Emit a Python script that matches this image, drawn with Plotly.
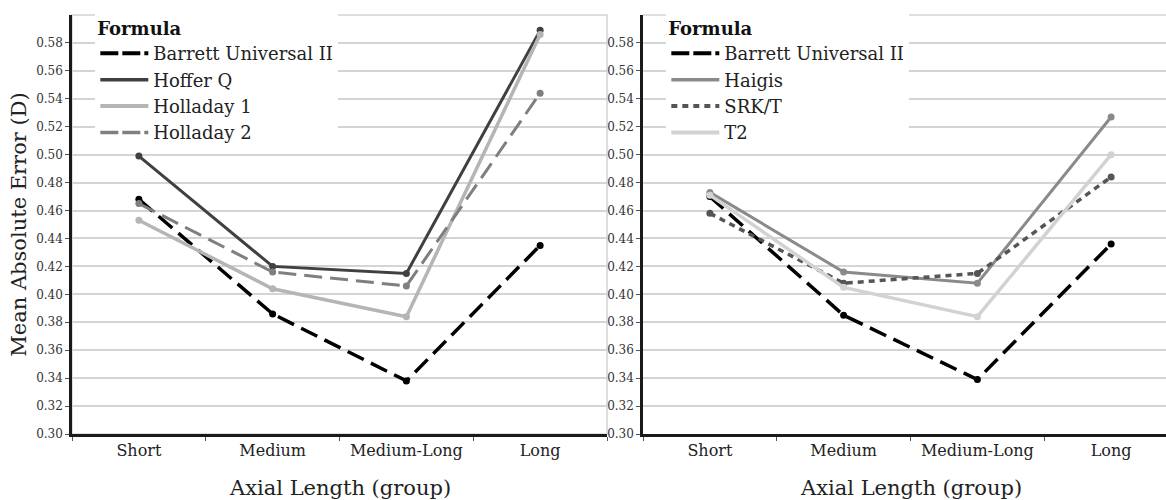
import plotly.graph_objects as go

categories = ["Short", "Medium", "Medium-Long", "Long"]

# Left panel
barrett_left = [0.468, 0.386, 0.338, 0.435]
hofferq = [0.499, 0.420, 0.415, 0.589]
holladay1 = [0.453, 0.404, 0.384, 0.586]
holladay2 = [0.465, 0.416, 0.406, 0.544]

# Right panel
barrett_right = [0.470, 0.385, 0.339, 0.436]
haigis = [0.473, 0.416, 0.408, 0.527]
srkt = [0.458, 0.408, 0.415, 0.484]
t2 = [0.471, 0.405, 0.384, 0.500]

ytickvals = [0.30, 0.32, 0.34, 0.36, 0.38, 0.40, 0.42, 0.44, 0.46, 0.48, 0.50, 0.52, 0.54, 0.56, 0.58]

FONT = "DejaVu Serif"

left_series = [
    ("Barrett Universal II", barrett_left, "#000000", "18px,8px", 3.5),
    ("Hoffer Q", hofferq, "#404040", "solid", 3),
    ("Holladay 1", holladay1, "#b5b5b5", "solid", 3.5),
    ("Holladay 2", holladay2, "#7f7f7f", "18px,8px", 3),
]
right_series = [
    ("Barrett Universal II", barrett_right, "#000000", "18px,8px", 3.5),
    ("Haigis", haigis, "#8a8a8a", "solid", 3),
    ("SRK/T", srkt, "#555555", "6px,5px", 3.5),
    ("T2", t2, "#d2d2d2", "solid", 3.5),
]

fig = go.Figure()

for name, vals, color, dash, w in left_series:
    fig.add_trace(go.Scatter(x=categories, y=vals, mode="lines+markers", name=name,
                             line=dict(color=color, width=w, dash=dash),
                             marker=dict(color=color, size=7),
                             showlegend=False, xaxis="x", yaxis="y"))
for name, vals, color, dash, w in right_series:
    fig.add_trace(go.Scatter(x=categories, y=vals, mode="lines+markers", name=name,
                             line=dict(color=color, width=w, dash=dash),
                             marker=dict(color=color, size=7),
                             showlegend=False, xaxis="x2", yaxis="y2"))


def legend_dash(d):
    return "18px,4px" if d == "18px,8px" else d


# legend-only entries (line without marker)
for i, (name, vals, color, dash, w) in enumerate(left_series):
    fig.add_trace(go.Scatter(x=[None], y=[None], mode="lines", name=name,
                             line=dict(color=color, width=w + 0.5, dash=legend_dash(dash)),
                             legend="legend", legendgroup="L%d" % i,
                             xaxis="x", yaxis="y"))
for i, (name, vals, color, dash, w) in enumerate(right_series):
    fig.add_trace(go.Scatter(x=[None], y=[None], mode="lines", name=name,
                             line=dict(color=color, width=w + 0.5, dash=legend_dash(dash)),
                             legend="legend2", legendgroup="R%d" % i,
                             xaxis="x2", yaxis="y2"))

W = 1166
L0, L1 = 72 / W, 607 / W
R0 = 643 / W
xr_right = [-0.5, -0.5 + (W - 643) / 133.75]

TITLE_X = "Axial Length (group)"
TITLE_Y = "Mean Absolute Error (D)"

axis_common_x = dict(
    type="category", categoryorder="array", categoryarray=categories,
    showgrid=False, showline=True, linecolor="#1a1a1a", linewidth=2.5,
    ticks="outside", tickson="boundaries", ticklen=4, tickcolor="#555555",
    tickfont=dict(family=FONT, size=16, color="#222222"),
    zeroline=False,
)
axis_common_y = dict(
    range=[0.30, 0.60], tickvals=ytickvals, tickformat=".2f",
    showgrid=True, gridcolor="#d4d4d4", gridwidth=1.5,
    showline=True, linecolor="#1a1a1a", linewidth=2.5,
    ticks="outside", ticklen=4, tickcolor="#555555",
    tickfont=dict(family=FONT, size=12, color="#333333"),
    zeroline=False,
)

legend_common = dict(
    y=1.008, xanchor="left", yanchor="top",
    bgcolor="white", borderwidth=0,
    title=dict(text="<b>Formula</b>", font=dict(family=FONT, size=18, color="#111111")),
    font=dict(family=FONT, size=18, color="#222222"),
    tracegroupgap=0, itemwidth=48,
)

fig.update_layout(
    width=W, height=500,
    margin=dict(l=0, r=0, t=15, b=66),
    paper_bgcolor="white", plot_bgcolor="white",
    font=dict(family=FONT, color="#222222"),
    xaxis=dict(domain=[L0, L1], range=[-0.5, 3.5], anchor="y", **axis_common_x),
    yaxis=dict(domain=[0, 1], anchor="x",
               title=dict(text=TITLE_Y, font=dict(family=FONT, size=21, color="#222222"), standoff=4),
               **axis_common_y),
    xaxis2=dict(domain=[R0, 1.0], range=xr_right, anchor="y2", **axis_common_x),
    yaxis2=dict(domain=[0, 1], anchor="x2", **axis_common_y),
    legend=dict(x=L0 + 0.02, **legend_common),
    legend2=dict(x=R0 + 0.02, **legend_common),
    shapes=[
        dict(type="rect", xref="x domain", yref="y domain", x0=0, x1=1, y0=0, y1=1,
             line=dict(color="#d4d4d4", width=1.5), layer="below"),
        dict(type="line", xref="x2 domain", yref="y2 domain", x0=0, x1=1, y0=1, y1=1,
             line=dict(color="#d4d4d4", width=1.5), layer="below"),
    ],
    annotations=[
        dict(text=TITLE_X, xref="x domain", yref="paper", x=0.5, y=-0.128,
             xanchor="center", yanchor="middle", showarrow=False,
             font=dict(family=FONT, size=21, color="#222222")),
        dict(text=TITLE_X, xref="x2", yref="paper", x=1.5, y=-0.128,
             xanchor="center", yanchor="middle", showarrow=False,
             font=dict(family=FONT, size=21, color="#222222")),
    ],
)

fig.write_html("out.html")
